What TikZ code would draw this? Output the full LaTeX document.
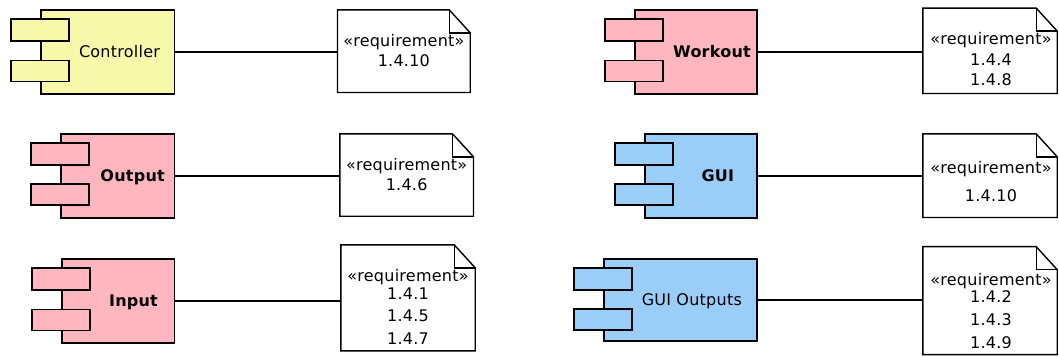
\documentclass[tikz,border=0pt]{standalone}
\usepackage{fontspec}
\newfontfamily\umlfont[LetterSpace=1.5]{DejaVu Sans}
\usetikzlibrary{calc}
\definecolor{compyellow}{RGB}{248,248,170}
\definecolor{comppink}{RGB}{255,182,190}
\definecolor{compblue}{RGB}{154,206,248}
\tikzset{
	comp/.style={draw, line width=1.6pt, inner sep=0pt, minimum height=83.7pt},
	port/.style={draw, line width=1.6pt},
	reqbox/.style={fill=white, inner sep=0pt},
	link/.style={line width=1.5pt},
	txt/.style={anchor=base, inner sep=0pt, font=\umlfont\fontsize{16}{19}\selectfont},
	boldtxt/.style={txt, font=\umlfont\bfseries\fontsize{16}{19}\selectfont},
}
% two ports on the left side of a component
\def\ports[#1](#2){\draw[port,fill=#1] ($(#2.north west)+(-29,9.5)$) rectangle +(58,22);
	\draw[port,fill=#1] ($(#2.north west)+(-29,51)$) rectangle +(58,21);}
% note outline with folded corner
\def\foldnote(#1){\draw[line width=1.4pt] (#1.north west) -- ($(#1.north east)+(-21,0)$) -- ($(#1.north east)+(0,23)$) -- (#1.south east) -- (#1.south west) -- cycle;
	\draw[line width=1.4pt] ($(#1.north east)+(-21,0)$) |- ($(#1.north east)+(0,23)$);}

\begin{document}
\begin{tikzpicture}[x=1pt, y=-1pt]
	\useasboundingbox (0,0) rectangle (1059,356);
	
	%%%%% components %%%%%
	\node[comp, fill=compyellow, minimum width=133.6pt] (ctrl) at (107.5, 52) {};
	\ports[compyellow](ctrl)
	\node[txt] (ctrl-l) at ($(ctrl.center)+(12,5.8)$) {Controller};
	
	\node[comp, fill=comppink, minimum width=113.3pt] (out) at (117.65, 175.85) {};
	\ports[comppink](out)
	\node[boldtxt] (out-l) at ($(out.center)+(15,5.8)$) {Output};
	
	\node[comp, fill=comppink, minimum width=112.6pt] (inp) at (118, 301) {};
	\ports[comppink](inp)
	\node[boldtxt] (inp-l) at ($(inp.center)+(15.5,5.8)$) {Input};
	
	\node[comp, fill=comppink, minimum width=122pt] (wko) at (696, 52) {};
	\ports[comppink](wko)
	\node[boldtxt] (wko-l) at ($(wko.center)+(16,5.8)$) {Workout};
	
	\node[comp, fill=compblue, minimum width=111.7pt] (gui) at (700.85, 175.85) {};
	\ports[compblue](gui)
	\node[boldtxt] (gui-l) at ($(gui.center)+(17,5.8)$) {GUI};
	
	\node[comp, fill=compblue, minimum width=152.7pt, minimum height=82pt] (guio) at (680.35, 300) {};
	\ports[compblue](guio)
	\node[txt] (guio-l) at ($(guio.center)+(11.5,5.8)$) {GUI Outputs};
	
	%%%%% requirements %%%%%
	\node[reqbox, minimum width=132.3pt, minimum height=82.3pt] (rq1) at (403.85, 51.15) {};
	\foldnote(rq1)
	\node[txt] (rq1-s) at (403.85, 46.7) {«requirement»};
	\node[txt] (rq1-a) at (403.85, 66.8) {1.4.10};
	
	\node[reqbox, minimum width=133.3pt, minimum height=82pt] (rq2) at (406.65, 175) {};
	\foldnote(rq2)
	\node[txt] (rq2-s) at (406.65, 170) {«requirement»};
	\node[txt] (rq2-a) at (406.65, 190.8) {1.4.6};
	
	\node[reqbox, minimum width=134pt, minimum height=105.7pt] (rq3) at (408, 297.85) {};
	\foldnote(rq3)
	\node[txt] (rq3-s) at (408, 281.3) {«requirement»};
	\node[txt] (rq3-a) at (408, 299.1) {1.4.1};
	\node[txt] (rq3-b) at (408, 321.8) {1.4.5};
	\node[txt] (rq3-c) at (408, 344.1) {1.4.7};
	
	\node[reqbox, minimum width=134pt, minimum height=85pt] (rq4) at (990, 50.8) {};
	\foldnote(rq4)
	\node[txt] (rq4-s) at (991, 44) {«requirement»};
	\node[txt] (rq4-a) at (991, 65.8) {1.4.4};
	\node[txt] (rq4-b) at (991, 85.8) {1.4.8};
	
	\node[reqbox, minimum width=134pt, minimum height=83.3pt] (rq5) at (990, 175.65) {};
	\foldnote(rq5)
	\node[txt] (rq5-s) at (991, 173) {«requirement»};
	\node[txt] (rq5-a) at (991, 201.8) {1.4.10};
	
	\node[reqbox, minimum width=134pt, minimum height=107.5pt] (rq6) at (990, 300.6) {};
	\foldnote(rq6)
	\node[txt] (rq6-s) at (991, 285.7) {«requirement»};
	\node[txt] (rq6-a) at (991, 302.5) {1.4.2};
	\node[txt] (rq6-b) at (991, 325.1) {1.4.3};
	\node[txt] (rq6-c) at (991, 348.5) {1.4.9};
	
	%%%%% links %%%%%
	\draw[link] (ctrl.east) -- (ctrl.east -| rq1.west);
	\draw[link] (out.east) -- (out.east -| rq2.west);
	\draw[link] (inp.east) -- (inp.east -| rq3.west);
	\draw[link] (wko.east) -- (wko.east -| rq4.west);
	\draw[link] (gui.east) -- (gui.east -| rq5.west);
	\draw[link] (guio.east) -- (guio.east -| rq6.west);
\end{tikzpicture}
\end{document}
